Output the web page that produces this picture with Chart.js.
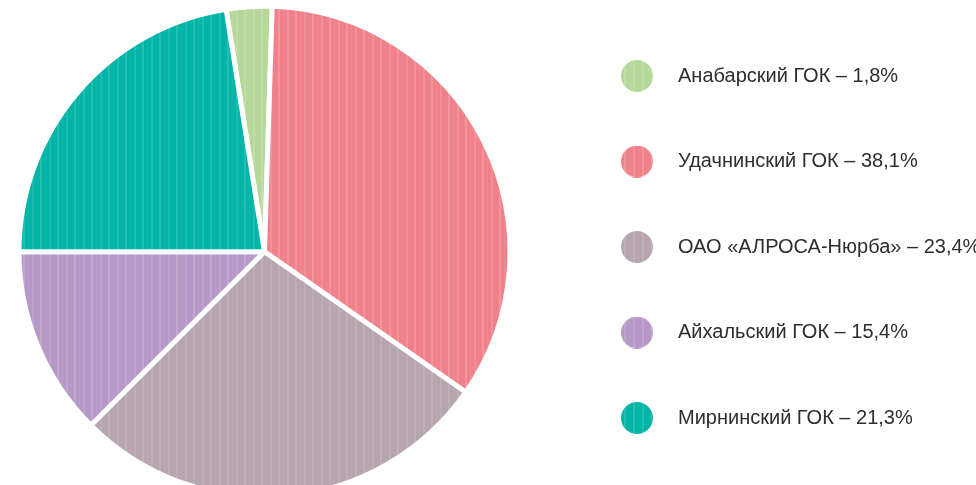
<!DOCTYPE html>
<html><head><meta charset="utf-8">
<script src="https://cdn.jsdelivr.net/npm/chart.js@4.4.1/dist/chart.umd.min.js"></script>
<style>
html,body{margin:0;padding:0;background:#fff;overflow:hidden;width:976px;height:485px;}
#wrap{position:absolute;left:-12px;top:0;width:1020px;height:503px;}
</style></head><body>
<div id="wrap"><canvas id="c"></canvas></div>
<script>
// Categories (legend order, also drawing order clockwise starting just left of 12 o'clock)
const categories = ['Анабарский ГОК', 'Удачнинский ГОК', 'ОАО «АЛРОСА-Нюрба»', 'Айхальский ГОК', 'Мирнинский ГОК'];
// Shares as printed in the legend
const statedShares = ['1,8', '38,1', '23,4', '15,4', '21,3'];
// Slice sizes as drawn in the picture
const sliceValues = [3.0, 34.2, 27.8, 12.5, 22.5];
const baseColors = ['#b5d799', '#f0818a', '#b6a4ae', '#b598c7', '#00b4a8'];
const stripeColors = ['#c3dfab', '#f4989f', '#c2b2bb', '#c2aad0', '#2ac0b5'];

const legendLabels = categories.map((c, i) => c + ' – ' + statedShares[i] + '%');

const canvas = document.getElementById('c');
const ctx = canvas.getContext('2d');

const FONT_SIZE = 20;
const FONT_FAMILY = '"Liberation Sans", Arial, sans-serif';
const LEG_PAD = 65.5;
const BOX_W = 62;
const WRAP_W = 1020;
const LEGEND_LEFT = 552.5; // canvas coordinate where the legend box starts

function makePattern(base, light) {
  const c = document.createElement('canvas');
  c.width = 17; c.height = 4;
  const g = c.getContext('2d');
  g.fillStyle = base; g.fillRect(0, 0, 17, 4);
  g.fillStyle = light;
  g.globalAlpha = 0.85; g.fillRect(1, 0, 2, 4);
  g.globalAlpha = 0.35; g.fillRect(6, 0, 1, 4);
  g.globalAlpha = 0.7; g.fillRect(10, 0, 2, 4);
  return ctx.createPattern(c, 'repeat');
}
const patterns = baseColors.map((b, i) => makePattern(b, stripeColors[i]));

function makeIcon(i) {
  const c = document.createElement('canvas');
  c.width = 32; c.height = 32;
  const g = c.getContext('2d');
  g.fillStyle = g.createPattern((() => {
    const s = document.createElement('canvas'); s.width = 9; s.height = 4;
    const sg = s.getContext('2d');
    sg.fillStyle = baseColors[i]; sg.fillRect(0, 0, 9, 4);
    sg.fillStyle = stripeColors[i]; sg.globalAlpha = 0.8; sg.fillRect(3, 0, 2, 4);
    return s;
  })(), 'repeat');
  g.beginPath(); g.arc(16, 16, 16, 0, Math.PI * 2); g.fill();
  return c;
}
const icons = baseColors.map((_, i) => makeIcon(i));

// natural legend width, so the legend box can be placed exactly
ctx.font = FONT_SIZE + 'px ' + FONT_FAMILY;
const maxText = Math.max(...legendLabels.map(t => ctx.measureText(t).width));
const legendW = LEG_PAD + BOX_W + FONT_SIZE / 2 + maxText + 10;
const padRight = WRAP_W - LEGEND_LEFT - legendW;

new Chart(ctx, {
  type: 'pie',
  data: {
    labels: legendLabels,
    datasets: [{
      data: sliceValues,
      backgroundColor: patterns,
      borderColor: '#ffffff',
      borderWidth: 5,
      hoverOffset: 0,
      rotation: -9,
      radius: 245.5
    }]
  },
  options: {
    responsive: true,
    maintainAspectRatio: false,
    animation: false,
    events: [],
    layout: { padding: { left: 0.5, top: 0.5, right: padRight, bottom: 0 } },
    plugins: {
      tooltip: { enabled: false },
      legend: {
        position: 'right',
        align: 'start',
        labels: {
          usePointStyle: true,
          pointStyleWidth: BOX_W,
          padding: LEG_PAD,
          color: '#2e2e2e',
          font: { family: FONT_FAMILY, size: FONT_SIZE },
          generateLabels: (chart) => chart.data.labels.map((t, i) => ({
            text: t,
            fillStyle: baseColors[i],
            strokeStyle: baseColors[i],
            lineWidth: 0,
            pointStyle: icons[i],
            hidden: false,
            index: i,
            fontColor: '#2e2e2e'
          }))
        }
      }
    }
  }
});
</script>
</body></html>
